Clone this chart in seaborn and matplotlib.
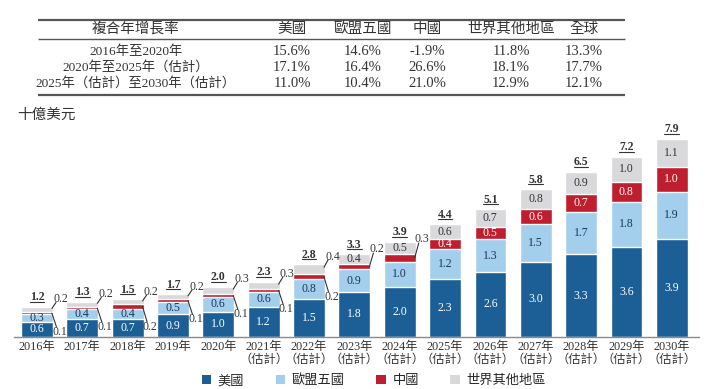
import numpy as np
import pandas as pd
import matplotlib
matplotlib.use("Agg")
import matplotlib.pyplot as plt
from matplotlib.patches import Patch
import seaborn as sns

# ---- data ----
years = ["2016", "2017", "2018", "2019", "2020", "2021", "2022", "2023",
         "2024", "2025", "2026", "2027", "2028", "2029", "2030"]
us = [0.6, 0.7, 0.7, 0.9, 1.0, 1.2, 1.5, 1.8, 2.0, 2.3, 2.6, 3.0, 3.3, 3.6, 3.9]
eu5 = [0.3, 0.4, 0.4, 0.5, 0.6, 0.6, 0.8, 0.9, 1.0, 1.2, 1.3, 1.5, 1.7, 1.8, 1.9]
china = [0.1, 0.1, 0.2, 0.1, 0.1, 0.1, 0.2, 0.2, 0.3, 0.4, 0.5, 0.6, 0.7, 0.8, 1.0]
rest = [0.2, 0.2, 0.2, 0.2, 0.3, 0.3, 0.4, 0.4, 0.5, 0.6, 0.7, 0.8, 0.9, 1.0, 1.1]
totals = [1.2, 1.3, 1.5, 1.7, 2.0, 2.3, 2.8, 3.3, 3.9, 4.4, 5.1, 5.8, 6.5, 7.2, 7.9]

series_names = ["美國", "歐盟五國", "中國", "世界其他地區"]
colors = ["#1B5F96", "#A3CEEC", "#BF1E2E", "#D9D9DC"]

cagr_title = "複合年增長率"
cagr_headers = ["美國", "歐盟五國", "中國", "世界其他地區", "全球"]
cagr_periods = ["2016年至2020年", "2020年至2025年（估計）", "2025年（估計）至2030年（估計）"]
cagr_us = ["15.6%", "17.1%", "11.0%"]
cagr_eu5 = ["14.6%", "16.4%", "10.4%"]
cagr_china = ["-1.9%", "26.6%", "21.0%"]
cagr_rest = ["11.8%", "18.1%", "12.9%"]
cagr_global = ["13.3%", "17.7%", "12.1%"]

unit_label = "十億美元"

xlabels = [f"{y}年" if int(y) <= 2020 else f"{y}年\n（估計）" for y in years]

sns.set_theme(style="white")
plt.rcParams["font.family"] = ["Liberation Serif", "Noto Sans CJK TC"]
dark = "#333333"

df = pd.DataFrame({"year": xlabels, "us": us, "eu5": eu5, "china": china, "rest": rest})
df["c1"] = df["us"]
df["c2"] = df["c1"] + df["eu5"]
df["c3"] = df["c2"] + df["china"]
df["c4"] = df["c3"] + df["rest"]

fig = plt.figure(figsize=(7.08, 3.89), dpi=100)
ax = fig.add_axes([0.0202, 0.1337, 0.967, 0.545])

# stacked bars: draw cumulative totals from top down
for col, c in zip(["c4", "c3", "c2", "c1"], colors[::-1]):
    sns.barplot(data=df, x="year", y=col, color=c, saturation=1, width=0.7,
                edgecolor="white", linewidth=1, ax=ax)

ax.set_xlim(-0.5, 14.6)
ax.set_ylim(0, 8.46)
ax.set_xlabel("")
ax.set_ylabel("")
ax.set_yticks([])
for s in ["left", "right", "top"]:
    ax.spines[s].set_visible(False)
ax.spines["bottom"].set_color("#8a8a8a")
ax.spines["bottom"].set_linewidth(1)
ax.tick_params(axis="x", which="major", length=0, labelsize=8.8, colors=dark, pad=3)
ax.set_xticks(np.arange(-0.5, 15, 1), minor=True)
ax.tick_params(axis="x", which="minor", length=3, width=0.8, color="#8a8a8a", direction="out")
for t in ax.get_xticklabels():
    t.set_linespacing(1.05)

fs = 8.5
for i in range(len(years)):
    c1, c2, c3, c4 = df.loc[i, ["c1", "c2", "c3", "c4"]]
    ax.text(i, c1 / 2, f"{us[i]:.1f}", ha="center", va="center", color="white", fontsize=fs)
    ax.text(i, (c1 + c2) / 2, f"{eu5[i]:.1f}", ha="center", va="center", color="#1d3557", fontsize=fs)
    # China
    if i >= 9:
        ax.text(i, (c2 + c3) / 2, f"{china[i]:.1f}", ha="center", va="center", color="white", fontsize=fs)
    elif i >= 7:
        ly = c3 + 0.6
        ax.plot([i + 0.33, i + 0.42], [(c2 + c3) / 2, ly - 0.15], color=dark, lw=0.8)
        ax.text(i + 0.5, ly, f"{china[i]:.1f}", ha="center", va="center", color=dark, fontsize=fs)
    else:
        ly = c2 - 0.7
        ax.plot([i + 0.33, i + 0.43], [(c2 + c3) / 2, ly + 0.2], color=dark, lw=0.8)
        ax.text(i + 0.5, ly, f"{china[i]:.1f}", ha="center", va="center", color=dark, fontsize=fs)
    # rest of world
    if i >= 7:
        ax.text(i, (c3 + c4) / 2, f"{rest[i]:.1f}", ha="center", va="center", color=dark, fontsize=fs)
    else:
        ly = c4 + 0.3
        ax.plot([i + 0.33, i + 0.42], [c3 + rest[i] * 0.7, ly - 0.12], color=dark, lw=0.8)
        ax.text(i + 0.52, ly, f"{rest[i]:.1f}", ha="center", va="center", color=dark, fontsize=fs)
    # total
    ax.text(i, c4 + 0.38, f"{totals[i]:.1f}", ha="center", va="center", color=dark,
            fontsize=fs, fontweight="bold")
    ax.plot([i - 0.16, i + 0.16], [c4 + 0.2, c4 + 0.2], color=dark, lw=0.8)

# ---- CAGR table (pixel coordinates) ----
tab = fig.add_axes([0, 0, 1, 1])
tab.set_xlim(0, 708)
tab.set_ylim(389, 0)
tab.axis("off")
tab.patch.set_alpha(0)
col_x = [136, 292, 363, 427, 511, 584]
head_y = 29
row_y = [51.5, 67.5, 83.5]
tab.text(col_x[0], head_y, cagr_title, ha="center", va="center", fontsize=10.5, color=dark,
         family="Noto Sans CJK TC")
for x, h in zip(col_x[1:], cagr_headers):
    tab.text(x, head_y, h, ha="center", va="center", fontsize=10.5, color=dark, family="Noto Sans CJK TC")
columns = [cagr_periods, cagr_us, cagr_eu5, cagr_china, cagr_rest, cagr_global]
for k, (x, vals) in enumerate(zip(col_x, columns)):
    for y, v in zip(row_y, vals):
        tab.text(x, y, v, ha="center", va="center", fontsize=9.6 if k == 0 else 10.5, color=dark)
tab.hlines([20, 95], 38, 625, color="#555555", lw=1.6)
tab.hlines([39], 38, 625, color="#555555", lw=1.0)
tab.text(17, 115, unit_label, ha="left", va="center", fontsize=10.5, color=dark, style="italic",
         family="Noto Sans CJK TC")

handles = [Patch(facecolor=c, edgecolor="none") for c in colors]
fig.legend(handles, series_names, loc="center", bbox_to_anchor=(0.528, 0.021), ncol=4,
           frameon=False, handlelength=0.7, handleheight=0.7, handletextpad=0.5,
           columnspacing=2.4, prop={"family": "Noto Sans CJK TC", "size": 9.5})

fig.savefig("out.png", dpi=100)
